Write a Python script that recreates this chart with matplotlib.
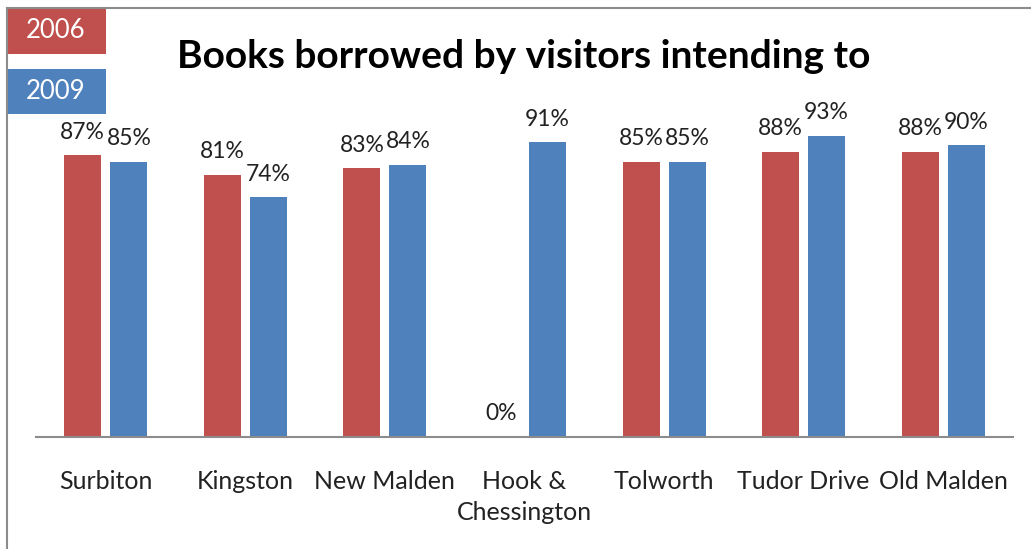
import numpy as np
import matplotlib
matplotlib.use("Agg")
import matplotlib.pyplot as plt
from matplotlib.patches import Rectangle
from matplotlib.lines import Line2D

# ── Data ──────────────────────────────────────────────────────────────────────
libraries = ["Surbiton", "Kingston", "New Malden", "Hook &\nChessington",
             "Tolworth", "Tudor Drive", "Old Malden"]
pct_2006 = [87, 81, 83, 0, 85, 88, 88]
pct_2009 = [85, 74, 84, 91, 85, 93, 90]
years = ["2006", "2009"]

RED = "#C0504D"
BLUE = "#4F81BD"
FONT = "Lato"

fig = plt.figure(figsize=(10.31, 5.49), dpi=100)
W, H = 1031, 549

# outer chart frame (left and top edges visible)
fig.add_artist(Line2D([7 / W, 7 / W], [0, 1 - 8 / H], color="#8C8C8C", lw=1.5))
fig.add_artist(Line2D([7 / W, 1], [1 - 8 / H, 1 - 8 / H], color="#8C8C8C", lw=1.5))

ax = fig.add_axes([36 / W, 112 / H, 977 / W, 324 / H])

x = np.arange(len(libraries))
bw = 0.265
off = 0.165
b1 = ax.bar(x - off, pct_2006, width=bw, color=RED, edgecolor="none")
b2 = ax.bar(x + off, pct_2009, width=bw, color=BLUE, edgecolor="none")

for bars, vals in ((b1, pct_2006), (b2, pct_2009)):
    for r, v in zip(bars, vals):
        ax.annotate(f"{v}%", (r.get_x() + r.get_width() / 2, v),
                    xytext=(0, 9), textcoords="offset points",
                    ha="center", va="bottom", fontsize=16.5, family=FONT,
                    color="#222222")

ax.set_xlim(-0.5, len(libraries) - 0.5)
ax.set_ylim(0, 100)
ax.set_yticks([])
ax.set_xticks(x)
ax.set_xticklabels(libraries, fontsize=18, family=FONT, color="#222222",
                   linespacing=1.42)
ax.tick_params(axis="x", length=0, pad=24)
for s in ("top", "right", "left"):
    ax.spines[s].set_visible(False)
ax.spines["bottom"].set_color("#8C8C8C")
ax.spines["bottom"].set_linewidth(1.5)
ax.patch.set_visible(False)

# legend boxes in the top-left corner
for (y0, y1), c, lab in (((8, 54), RED, years[0]), ((69, 114), BLUE, years[1])):
    fig.add_artist(Rectangle((7 / W, 1 - y1 / H), 99 / W, (y1 - y0) / H,
                             facecolor=c, edgecolor="none",
                             transform=fig.transFigure))
    fig.text(56 / W, 1 - (y0 + y1) / 2 / H, lab, ha="center", va="center",
             fontsize=18.5, family=FONT, color="white")

fig.text(524 / W, 1 - 57 / H, "Books borrowed by visitors intending to",
         ha="center", va="center", fontsize=28, fontweight="bold",
         family=FONT, color="black")

fig.savefig("out.png", dpi=100)
